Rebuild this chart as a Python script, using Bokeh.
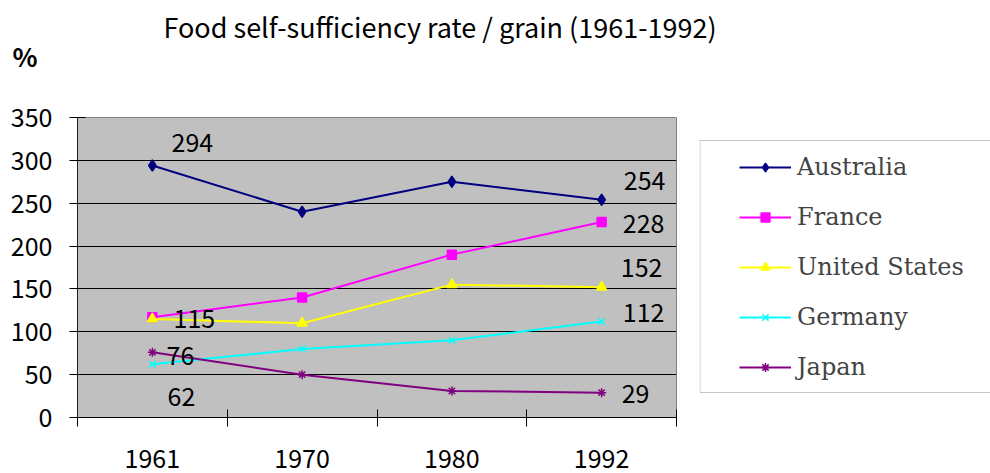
from bokeh.plotting import figure
from bokeh.models import (ColumnDataSource, FixedTicker, Legend, LegendItem,
                          Label, Range1d, BoxAnnotation)
from bokeh.layouts import row, column
from bokeh.core.properties import value
from bokeh.embed import file_html
from bokeh.resources import INLINE

# ---- data ----
years = ["1961", "1970", "1980", "1992"]
australia = [294, 240, 275, 254]
france = [117, 140, 190, 228]
united_states = [115, 110, 155, 152]
germany = [62, 80, 90, 112]
japan = [76, 50, 31, 29]
y_ticks = [0, 50, 100, 150, 200, 250, 300, 350]
title_text = "Food self-sufficiency rate / grain (1961-1992)"
unit_text = "%"

series = [
    ("Australia", australia, "#000080", "diamond", 11),
    ("France", france, "#FF00FF", "square", 9),
    ("United States", united_states, "#FFFF00", "triangle", 10),
    ("Germany", germany, "#00FFFF", "x", 9),
    ("Japan", japan, "#800080", "asterisk", 9),
]

# data labels: (series index, year index, x_offset, y_offset)
label_spec = [
    (0, 0, 40, -23), (0, 3, 43, -19),
    (1, 3, 42, 1),
    (2, 0, 42, 0), (2, 3, 40, -20),
    (3, 0, 29, 32), (3, 3, 42, -9),
    (4, 0, 28, 3), (4, 3, 34, 1),
]

SANS = "Noto Sans CJK JP"
xs = [i + 0.5 for i in range(len(years))]

# ---- header (title and unit) ----
W, HEAD, TOP = 990, 97, 20
FW, FH = 599, 300
h = figure(frame_width=W, frame_height=HEAD, min_border=0,
           x_range=Range1d(0, W), y_range=Range1d(HEAD, 0),
           x_axis_location=None, y_axis_location=None, title=None,
           output_backend="svg", toolbar_location=None)
h.grid.visible = False
h.outline_line_color = None
h.background_fill_color = "white"
h.border_fill_color = "white"
h.add_layout(Label(x=163, y=26, text=title_text, text_font=SANS,
                   text_font_size="27px", text_align="left",
                   text_baseline="middle", text_color="black"))
h.add_layout(Label(x=12, y=55, text=unit_text, text_font=SANS,
                   text_font_size="26px", text_font_style="bold",
                   text_align="left", text_baseline="middle",
                   text_color="black"))

# ---- main chart ----
p = figure(frame_width=FW, frame_height=FH,
           min_border_left=77, min_border_right=23,
           min_border_top=TOP, min_border_bottom=56,
           x_range=Range1d(0, len(years)), y_range=Range1d(0, 350),
           title=None, output_backend="svg", toolbar_location=None)
p.background_fill_color = "#C0C0C0"
p.border_fill_color = "white"
p.outline_line_color = "#808080"
p.outline_line_width = 1

xa = p.xaxis[0]
xa.ticker = FixedTicker(ticks=xs, minor_ticks=list(range(len(years) + 1)))
xa.major_label_overrides = {x: y for x, y in zip(xs, years)}
xa.major_tick_out = 0
xa.major_tick_in = 0
xa.minor_tick_out = 9
xa.minor_tick_in = 8
xa.minor_tick_line_color = "black"
xa.axis_line_color = "black"
xa.major_label_standoff = 22
xa.major_label_text_font = SANS
xa.major_label_text_font_size = "25px"
xa.major_label_text_color = "black"

ya = p.yaxis[0]
ya.ticker = FixedTicker(ticks=y_ticks, minor_ticks=[])
ya.major_tick_out = 8
ya.major_tick_in = 8
ya.major_tick_line_color = "black"
ya.axis_line_color = "#202020"
ya.major_label_standoff = 17
ya.major_label_text_font = SANS
ya.major_label_text_font_size = "25px"
ya.major_label_text_color = "black"

p.xgrid.visible = False
p.ygrid.ticker = FixedTicker(ticks=y_ticks)
p.ygrid.grid_line_color = "black"
p.ygrid.grid_line_width = 1

# ---- legend panel (same frame height as the chart) ----
QW = W - 699
q = figure(frame_width=QW, frame_height=FH, min_border_top=TOP,
           min_border_bottom=56, min_border_left=0, min_border_right=0,
           x_range=Range1d(0, QW), y_range=Range1d(0, FH),
           x_axis_location=None, y_axis_location=None, title=None,
           output_backend="svg", toolbar_location=None)
q.grid.visible = False
q.background_fill_color = "white"
q.border_fill_color = "white"
q.outline_line_color = None
q.add_layout(BoxAnnotation(left=0.5, right=QW + 20, bottom=25, top=277,
                           fill_alpha=0, line_color="#404040", line_width=1))

items = []
for name, vals, col, mk, sz in series:
    src = ColumnDataSource(dict(x=xs, y=vals))
    p.line("x", "y", source=src, line_color=col, line_width=2)
    p.scatter("x", "y", source=src, marker=mk, size=sz,
              fill_color=col, line_color=col, line_width=1.5)
    r1 = q.line("x", "y", source=src, line_color=col, line_width=2, visible=False)
    r2 = q.scatter("x", "y", source=src, marker=mk, size=sz,
                   fill_color=col, line_color=col, line_width=1.5, visible=False)
    items.append(LegendItem(label=name, renderers=[r1, r2]))

lx, ly, lt, lxo, lyo = [], [], [], [], []
for si, yi, xo, yo in label_spec:
    lx.append(xs[yi])
    ly.append(series[si][1][yi])
    lt.append(str(series[si][1][yi]))
    lxo.append(xo)
    lyo.append(yo)
p.text(x="x", y="y", text="t", x_offset="xo", y_offset="yo",
       source=ColumnDataSource(dict(x=lx, y=ly, t=lt, xo=lxo, yo=lyo)),
       text_font=value(SANS), text_font_size="25px", text_color="black",
       text_align="center", text_baseline="middle")

legend = Legend(items=items, location=(40, 36), padding=0, margin=0,
                spacing=22, glyph_width=52, glyph_height=22, label_height=22,
                label_standoff=6, label_text_font="DejaVu Serif",
                label_text_font_size="24px", label_text_baseline="middle",
                border_line_alpha=0, background_fill_alpha=0)
q.add_layout(legend)

layout = column(h, row(p, q, spacing=0), spacing=0)
open("out.html", "w").write(file_html(layout, INLINE))
